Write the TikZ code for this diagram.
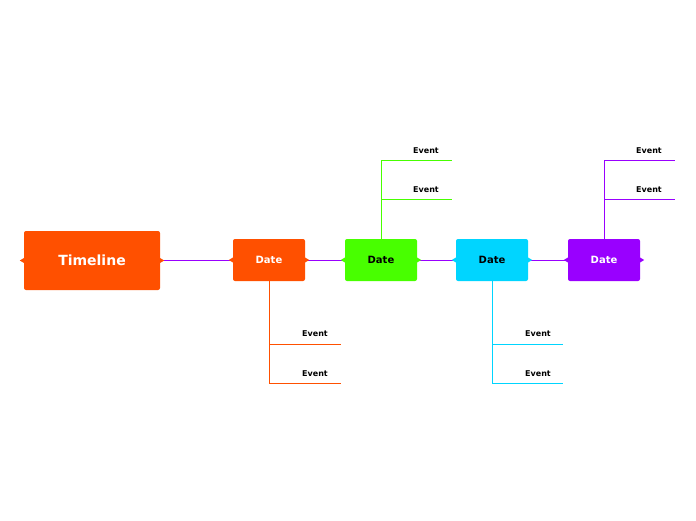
\documentclass[tikz,border=0pt]{standalone}
\usepackage{fontspec}
\setmainfont{DejaVu Sans}
\usetikzlibrary{positioning,calc}
\definecolor{orng}{HTML}{FF5000}
\definecolor{grn}{HTML}{48FF00}
\definecolor{cyn}{HTML}{00D5FF}
\definecolor{prp}{HTML}{9900FF}
\tikzset{
  topic/.style={fill=#1, rounded corners=2pt, font=\bfseries, inner sep=0pt},
  evt/.style={font=\bfseries\fontsize{8}{9}\selectfont, inner sep=1pt, anchor=south}
}
\newcommand{\tips}[2]{%
  \fill[#2] ($(#1.west)+(1,3)$) -- ($(#1.west)+(-4,0)$) -- ($(#1.west)+(1,-3)$) -- cycle;
  \fill[#2] ($(#1.east)+(-1,3)$) -- ($(#1.east)+(4,0)$) -- ($(#1.east)+(-1,-3)$) -- cycle;}
\begin{document}
\begin{tikzpicture}[x=1pt,y=-1pt]
    \useasboundingbox (0,0) rectangle (696,520);

    % Main line
    \draw[prp] (160,260) -- (604,260);

    % Root
    \node[topic=orng, minimum width=136, minimum height=59, text=white,
          font=\bfseries\fontsize{14}{16}\selectfont] (root) at (92,260.5) {Timeline};
    \tips{root}{orng}

    % Dates
    \node[topic=orng, minimum width=72, minimum height=42, text=white] (d1) at (269,260) {Date};
    \node[topic=grn, minimum width=72, minimum height=42, text=black] (d2) at (381,260) {Date};
    \node[topic=cyn, minimum width=72, minimum height=42, text=black] (d3) at (492,260) {Date};
    \node[topic=prp, minimum width=72, minimum height=42, text=white] (d4) at (604,260) {Date};
    \tips{d1}{orng}
    \tips{d2}{grn}
    \tips{d3}{cyn}
    \tips{d4}{prp}

    % Events below
    \coordinate (e1a) at (341,344); \coordinate (e1b) at (341,383);
    \draw[orng] (d1.south) |- (e1a); \draw[orng] (d1.south) |- (e1b);
    \node[evt] at (315,338) {Event};
    \node[evt] at (315,378) {Event};

    \coordinate (e3a) at (563,344); \coordinate (e3b) at (563,383);
    \draw[cyn] (d3.south) |- (e3a); \draw[cyn] (d3.south) |- (e3b);
    \node[evt] at (538,338) {Event};
    \node[evt] at (538,378) {Event};

    % Events above
    \coordinate (e2a) at (452,160); \coordinate (e2b) at (452,199);
    \draw[grn] (d2.north) |- (e2a); \draw[grn] (d2.north) |- (e2b);
    \node[evt] at (426,155) {Event};
    \node[evt] at (426,194) {Event};

    \coordinate (e4a) at (675,160); \coordinate (e4b) at (675,199);
    \draw[prp] (d4.north) |- (e4a); \draw[prp] (d4.north) |- (e4b);
    \node[evt] at (649,155) {Event};
    \node[evt] at (649,194) {Event};
\end{tikzpicture}
\end{document}
